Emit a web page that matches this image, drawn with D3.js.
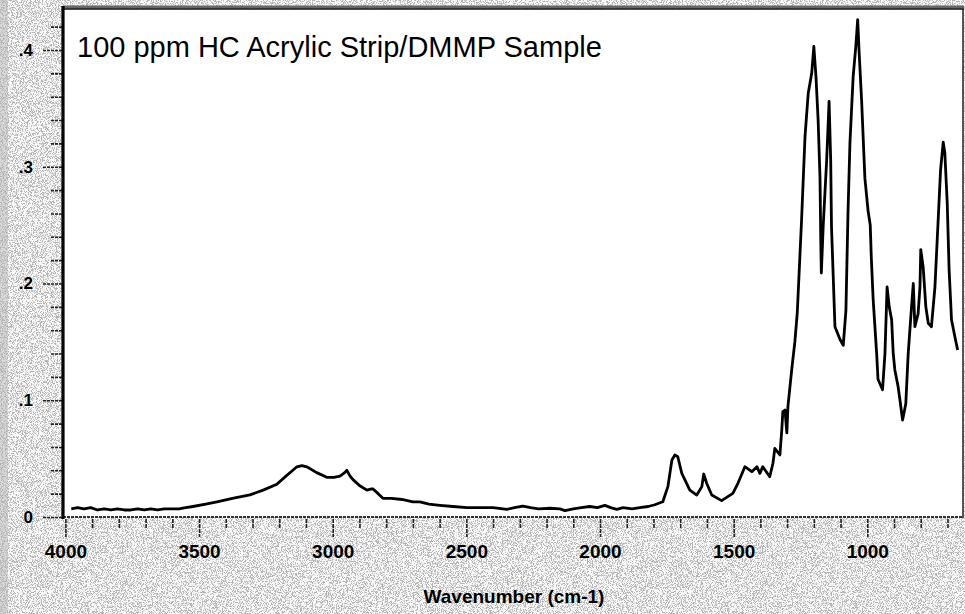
<!DOCTYPE html>
<html>
<head>
<meta charset="utf-8">
<script src="https://cdn.jsdelivr.net/npm/d3@7"></script>
<style>
  html, body { margin: 0; padding: 0; background: #f8f8f8; }
  svg { display: block; }
  text { font-family: "Liberation Sans", Arial, sans-serif; fill: #000; }
</style>
</head>
<body>
<svg id="chart" width="965" height="614"></svg>
<script>
// IR absorbance spectrum: wavenumber (cm-1) and absorbance
const wavenumber = [
  3978, 3955, 3930, 3905, 3880, 3855, 3830, 3805, 3780, 3755, 3730, 3705, 3680, 3655, 3630, 3600,
  3575, 3550, 3523, 3475, 3433, 3375, 3310, 3260, 3209, 3175, 3149, 3134, 3115, 3097, 3060, 3022,
  2995, 2973, 2955, 2947, 2935, 2924, 2900, 2872, 2855, 2849, 2830, 2812, 2780, 2741, 2700, 2674,
  2640, 2599, 2550, 2498, 2450, 2400, 2348, 2320, 2288, 2260, 2230, 2187, 2150, 2131, 2100, 2070,
  2038, 2010, 1982, 1960, 1937, 1914, 1880, 1851, 1820, 1795, 1765, 1746, 1731, 1720, 1709, 1694,
  1664, 1638, 1619, 1612, 1601, 1582, 1545, 1503, 1484, 1458, 1432, 1413, 1402, 1391, 1365, 1353,
  1346, 1327, 1320, 1316, 1308, 1301, 1297, 1282, 1271, 1262, 1246, 1233, 1221, 1208, 1200, 1192,
  1184, 1177, 1174, 1172, 1165, 1152, 1143, 1137, 1134, 1121, 1102, 1090, 1080, 1072, 1065, 1053,
  1043, 1036, 1031, 1021, 1009, 997, 989, 985, 978, 965, 960, 943, 934, 926, 918, 909,
  903, 897, 885, 876, 868, 856, 847, 838, 828, 822, 810, 803, 800, 791, 781, 772,
  760, 747, 735, 726, 716, 710, 701, 694, 685, 672, 662
];
const absorbance = [
  0.007, 0.008, 0.007, 0.008, 0.006, 0.007, 0.006, 0.007, 0.006, 0.006, 0.007, 0.006, 0.007, 0.006, 0.007, 0.007,
  0.007, 0.008, 0.009, 0.011, 0.013, 0.016, 0.019, 0.023, 0.028, 0.035, 0.040, 0.043, 0.044, 0.043, 0.038, 0.034,
  0.034, 0.035, 0.038, 0.040, 0.035, 0.032, 0.027, 0.023, 0.024, 0.024, 0.020, 0.016, 0.016, 0.015, 0.013, 0.013,
  0.011, 0.010, 0.009, 0.008, 0.008, 0.008, 0.0066, 0.008, 0.0094, 0.008, 0.007, 0.0075, 0.007, 0.0055, 0.007, 0.008,
  0.009, 0.008, 0.010, 0.008, 0.0066, 0.008, 0.007, 0.008, 0.009, 0.0105, 0.0131, 0.026, 0.0488, 0.0531, 0.0516, 0.0374,
  0.0231, 0.0188, 0.026, 0.0368, 0.0289, 0.0188, 0.014, 0.0203, 0.0289, 0.0431, 0.0388, 0.0431, 0.0374, 0.0431, 0.0345, 0.046,
  0.0588, 0.0531, 0.0745, 0.0902, 0.0916, 0.072, 0.0945, 0.128, 0.150, 0.175, 0.254, 0.326, 0.363, 0.380, 0.403, 0.377,
  0.340, 0.291, 0.235, 0.209, 0.249, 0.306, 0.356, 0.306, 0.249, 0.163, 0.152, 0.147, 0.177, 0.263, 0.320, 0.377,
  0.403, 0.426, 0.400, 0.355, 0.290, 0.262, 0.250, 0.222, 0.186, 0.140, 0.118, 0.109, 0.140, 0.197, 0.180, 0.169,
  0.140, 0.126, 0.112, 0.097, 0.083, 0.097, 0.140, 0.169, 0.200, 0.163, 0.174, 0.197, 0.229, 0.214, 0.180, 0.166,
  0.163, 0.197, 0.254, 0.297, 0.321, 0.312, 0.269, 0.212, 0.169, 0.154, 0.143
];

// Axis ticks and labels
const xMajorTicks = [4000, 3500, 3000, 2500, 2000, 1500, 1000];
const xMinorTicks = d3.range(4000, 600, -100).filter(v => v % 500 !== 0);
const yMajorTicks = [0, 0.1, 0.2, 0.3, 0.4];
const yTickLabels = ["0", ".1", ".2", ".3", ".4"];
const yMinorTicks = [0.02, 0.04, 0.06, 0.08, 0.12, 0.14, 0.16, 0.18, 0.22, 0.24, 0.26, 0.28, 0.32, 0.34, 0.36, 0.38, 0.42];

const chartTitle = "100 ppm HC Acrylic Strip/DMMP Sample";
const xAxisTitle = "Wavenumber (cm-1)";

const svg = d3.select("#chart");
const W = 965, H = 614;
const plot = { left: 63, right: 963, top: 9, bottom: 517 };

const x = d3.scaleLinear().domain([4009, 642]).range([plot.left, plot.right]);
const y = d3.scaleLinear().domain([0, 0.4]).range([plot.bottom, 50]);

// Grainy backdrop
const defs = svg.append("defs");
const grain = defs.append("filter").attr("id", "grain")
  .attr("x", 0).attr("y", 0).attr("width", "100%").attr("height", "100%")
  .attr("filterUnits", "userSpaceOnUse");
grain.append("feTurbulence").attr("type", "fractalNoise")
  .attr("baseFrequency", 0.9).attr("numOctaves", 2).attr("seed", 7);
grain.append("feColorMatrix").attr("type", "matrix")
  .attr("values", "0 0 0 0 0.5  0 0 0 0 0.5  0 0 0 0 0.5  14 0 0 0 -10.2");

const grainDense = defs.append("filter").attr("id", "grainDense")
  .attr("x", 0).attr("y", 0).attr("width", "100%").attr("height", "100%")
  .attr("filterUnits", "userSpaceOnUse");
grainDense.append("feTurbulence").attr("type", "fractalNoise")
  .attr("baseFrequency", 1.2).attr("numOctaves", 1).attr("seed", 3);
grainDense.append("feColorMatrix").attr("type", "matrix")
  .attr("values", "0 0 0 0 0.45  0 0 0 0 0.45  0 0 0 0 0.45  8 0 0 0 -3.8");

svg.append("rect").attr("width", W).attr("height", H).attr("fill", "#fafafa");
svg.append("rect").attr("width", W).attr("height", H).attr("filter", "url(#grain)").attr("opacity", 0.4);
svg.append("rect").attr("x", 0).attr("y", 0).attr("width", 8).attr("height", H).attr("fill", "#d8d8d8");
svg.append("rect").attr("x", 0).attr("y", 0).attr("width", 8).attr("height", H).attr("filter", "url(#grainDense)");

// Plot area
svg.append("rect")
  .attr("x", plot.left).attr("y", plot.top)
  .attr("width", plot.right - plot.left).attr("height", plot.bottom - plot.top)
  .attr("fill", "#fff");

// Frame: dark top band, thin right edge, dotted bottom, heavy left axis
svg.append("line").attr("x1", plot.left).attr("x2", plot.right + 1)
  .attr("y1", plot.top - 2).attr("y2", plot.top - 2)
  .attr("stroke", "#666").attr("stroke-width", 3);
svg.append("line").attr("x1", plot.left).attr("x2", plot.right + 1)
  .attr("y1", plot.top).attr("y2", plot.top)
  .attr("stroke", "#111").attr("stroke-width", 1.5);
svg.append("line").attr("x1", plot.right).attr("x2", plot.right)
  .attr("y1", plot.top).attr("y2", plot.bottom + 1)
  .attr("stroke", "#222").attr("stroke-width", 1.5);
svg.append("line").attr("x1", plot.left).attr("x2", plot.right)
  .attr("y1", plot.bottom).attr("y2", plot.bottom)
  .attr("stroke", "#333").attr("stroke-width", 1.8).attr("stroke-dasharray", "3 1");

// X axis ticks
const xAxisMajor = d3.axisBottom(x).tickValues(xMajorTicks).tickSize(18).tickPadding(8).tickFormat(d3.format("d"));
const xAxisMinor = d3.axisBottom(x).tickValues(xMinorTicks).tickSize(9).tickFormat("");
const gxMin = svg.append("g").attr("transform", `translate(0,${plot.bottom + 2})`).call(xAxisMinor);
const gxMaj = svg.append("g").attr("transform", `translate(0,${plot.bottom + 2})`).call(xAxisMajor);
[gxMin, gxMaj].forEach(g => {
  g.select(".domain").remove();
  g.selectAll(".tick line").attr("stroke", "#222").attr("stroke-width", 1.6).attr("stroke-dasharray", "4 1");
});
gxMaj.selectAll(".tick text")
  .attr("font-size", 19).attr("font-weight", "bold")
  .attr("font-family", '"Liberation Sans", Arial, sans-serif')
  .attr("fill", "#000")
  .attr("dy", "0.71em");

// Y axis ticks
const yAxisMajor = d3.axisLeft(y).tickValues(yMajorTicks).tickSize(19).tickPadding(10)
  .tickFormat((d, i) => yTickLabels[i]);
const yAxisMinor = d3.axisLeft(y).tickValues(yMinorTicks).tickSize(12).tickFormat("");
const gyMin = svg.append("g").attr("transform", `translate(${plot.left - 1},0)`).call(yAxisMinor);
const gyMaj = svg.append("g").attr("transform", `translate(${plot.left - 1},0)`).call(yAxisMajor);
[gyMin, gyMaj].forEach(g => {
  g.select(".domain").remove();
  g.selectAll(".tick line").attr("stroke", "#222").attr("stroke-width", 1.6).attr("stroke-dasharray", "3 1");
});
gyMaj.selectAll(".tick text")
  .attr("font-size", 17).attr("font-weight", "bold")
  .attr("font-family", '"Liberation Sans", Arial, sans-serif')
  .attr("fill", "#000");

// Heavy left axis line
svg.append("line").attr("x1", plot.left).attr("x2", plot.left)
  .attr("y1", plot.top - 3).attr("y2", plot.bottom + 2)
  .attr("stroke", "#000").attr("stroke-width", 3.2);

// Spectrum trace
const spectrum = wavenumber.map((w, i) => ({ w, a: absorbance[i] }));
const line = d3.line().x(d => x(d.w)).y(d => y(d.a));
svg.append("path").datum(spectrum)
  .attr("d", line)
  .attr("fill", "none")
  .attr("stroke", "#000")
  .attr("stroke-width", 2.8)
  .attr("stroke-linejoin", "round");

// Titles
svg.append("text").attr("x", 77).attr("y", 57)
  .attr("font-size", 29).text(chartTitle);
svg.append("text").attr("x", (plot.left + plot.right) / 2 + 1).attr("y", 603)
  .attr("text-anchor", "middle").attr("font-size", 19).attr("font-weight", "bold")
  .text(xAxisTitle);
</script>
</body>
</html>
